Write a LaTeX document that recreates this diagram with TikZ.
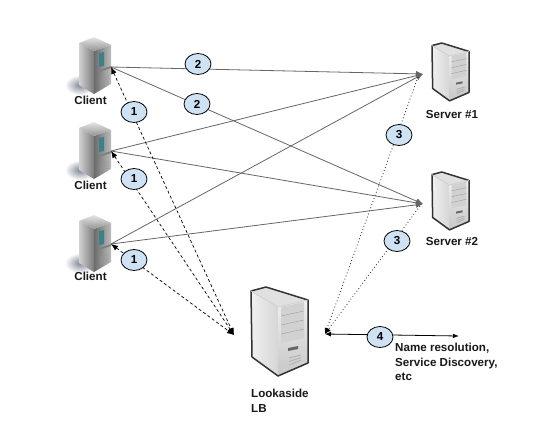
\documentclass[tikz,border=0pt]{standalone}
\usepackage{fontspec}
\setmainfont{Liberation Sans}
\usetikzlibrary{arrows.meta,fadings,shadings,shapes.geometric}
\definecolor{bub}{HTML}{CFE2F3}
\definecolor{shadowblue}{HTML}{747A8C}
\definecolor{slotteal}{HTML}{3F7F88}
\tikzfading[name=softoval,inner color=transparent!10,outer color=transparent!100]
\tikzset{
  lab/.style={font=\bfseries\fontsize{11.6}{14.6}\selectfont,text=black!90,inner sep=0pt,align=left},
  bubble/.style={ellipse,draw=black,line width=.8pt,fill=bub,minimum width=26pt,minimum height=21pt,inner sep=0pt,font=\bfseries\fontsize{11.6}{12}\selectfont},
  req/.style={draw=black!60,line width=.8pt},
  reqtip/.style={req,-{Latex[length=7pt,width=6pt,black!60]}},
  lookup/.style={draw=black,line width=.7pt,dash pattern=on 3pt off 2.4pt,{Latex[length=7pt,width=5.5pt]}-{Latex[length=7pt,width=5.5pt]}},
  report/.style={draw=black!80,line width=.8pt,dash pattern=on .9pt off 2.4pt,-{Latex[length=6pt,width=5pt,black]}},
  ext/.style={draw=black,line width=.8pt,{Latex[length=6pt,width=5pt]}-{Latex[length=6pt,width=4.5pt]}},
  clienticon/.pic={
    \fill[shadowblue,path fading=softoval] (1,48) ellipse (15 and 10);
    \shade[left color=black!18,right color=black!52] (0,6) -- (15,14) -- (15,57) -- (0,48) -- cycle;
    \shade[left color=black!58,right color=black!26] (15,14) -- (32,8) -- (32,47) -- (15,57) -- cycle;
    \shade[top color=black!10,bottom color=black!42] (0,6) -- (15,0) -- (32,8) -- (15,14) -- cycle;
    \fill[slotteal] (20,16) -- (25,15) -- (25,29) -- (20,30) -- cycle;
    \fill[black!50] (20,33) -- (32,29) -- (32,31) -- (20,35) -- cycle;
    \foreach \k in {0,1,2,3} \draw[black!40,line width=.4pt] (21,{49-\k*2.2}) -- (30,{46-\k*2.2});
  },
  servericon/.pic={
    \begin{scope}[line join=round]
    \fill[black!12] (0,4) -- (15,0) -- (57,13) -- (27,20) -- cycle;
    \shade[left color=black!6,right color=black!16] (0,4) -- (27,20) -- (27,89) -- (1,70) -- cycle;
    \shade[top color=black!6,bottom color=black!22] (27,20) -- (57,13) -- (57,76) -- (27,89) -- cycle;
    \fill[black!18] (30,20) -- (53,15) -- (53,51) -- (30,56) -- cycle;
    \foreach \k in {1,2,3} \draw[black!35,line width=.5pt] (30,{20+\k*9}) -- (53,{15+\k*9});
    \fill[black!60] (37,61) -- (47,59) -- (47,62) -- (37,64) -- cycle;
    \foreach \k in {0,1,2} \draw[black!30,line width=.9pt] (38,{71+\k*3.5}) -- (50,{68+\k*3.5-\k});
    \draw[black!80,line width=1.5pt] (0,4) -- (15,0) -- (57,13) -- (57,76) -- (27,89) -- (1,70) -- cycle;
    \draw[black!20,line width=.7pt] (0,4) -- (27,20) -- (57,13);
    \end{scope}
  }
}
\begin{document}
\begin{tikzpicture}[x=1pt,y=-1pt]
\useasboundingbox (0,0) rectangle (551,439);
\fill[white] (0,0) rectangle (551,439);
% icons
\pic at (79,37) {clienticon};
\pic at (79,122) {clienticon};
\pic at (79,215) {clienticon};
\pic[scale=.65,transform shape] at (432,43) {servericon};
\pic[scale=.65,transform shape] at (432,172) {servericon};
\pic at (251,287) {servericon};
% labels
\node[lab,anchor=center] (lc1) at (90.5,100) {Client};
\node[lab,anchor=center] (lc2) at (90.5,185) {Client};
\node[lab,anchor=center] (lc3) at (90.5,276) {Client};
\node[lab,anchor=center] (ls1) at (452,115) {Server \#1};
\node[lab,anchor=center] (ls2) at (452,242) {Server \#2};
\node[lab,anchor=north west] (llb) at (251,389) {Lookaside\\LB};
\node[lab,anchor=north west] (lext) at (395,343) {Name resolution,\\Service Discovery,\\etc};
% ports
\coordinate (c1) at (111,67);
\coordinate (c2) at (111,151);
\coordinate (c3) at (111,244);
\coordinate (s1) at (423,74);
\coordinate (s1b) at (418,77);
\coordinate (s2) at (423,204);
\coordinate (s2b) at (420,206);
\coordinate (lbl) at (234,335);
\coordinate (lbr) at (325,334);
\coordinate (ex) at (459,336);
% requests
\foreach \a in {c1,c2,c3} \foreach \b in {s1,s2} \draw[reqtip] (\a) -- (\b);
% lookups
\foreach \a in {c1,c2,c3} \draw[lookup] (\a) -- (lbl);
% reports
\draw[report] (s1b) -- (lbr);
\draw[report] (s2b) -- (lbr);
% external
\draw[ext] (lbr) -- (ex);
% bubbles
\node[bubble] (b2a) at (198,64) {2};
\node[bubble] (b2b) at (197,104) {2};
\node[bubble] (b1a) at (134,112) {1};
\node[bubble] (b1b) at (134,179) {1};
\node[bubble] (b1c) at (134,260) {1};
\node[bubble] (b3a) at (399,135) {3};
\node[bubble] (b3b) at (397,241) {3};
\node[bubble] (b4) at (380,337) {4};
\end{tikzpicture}
\end{document}
